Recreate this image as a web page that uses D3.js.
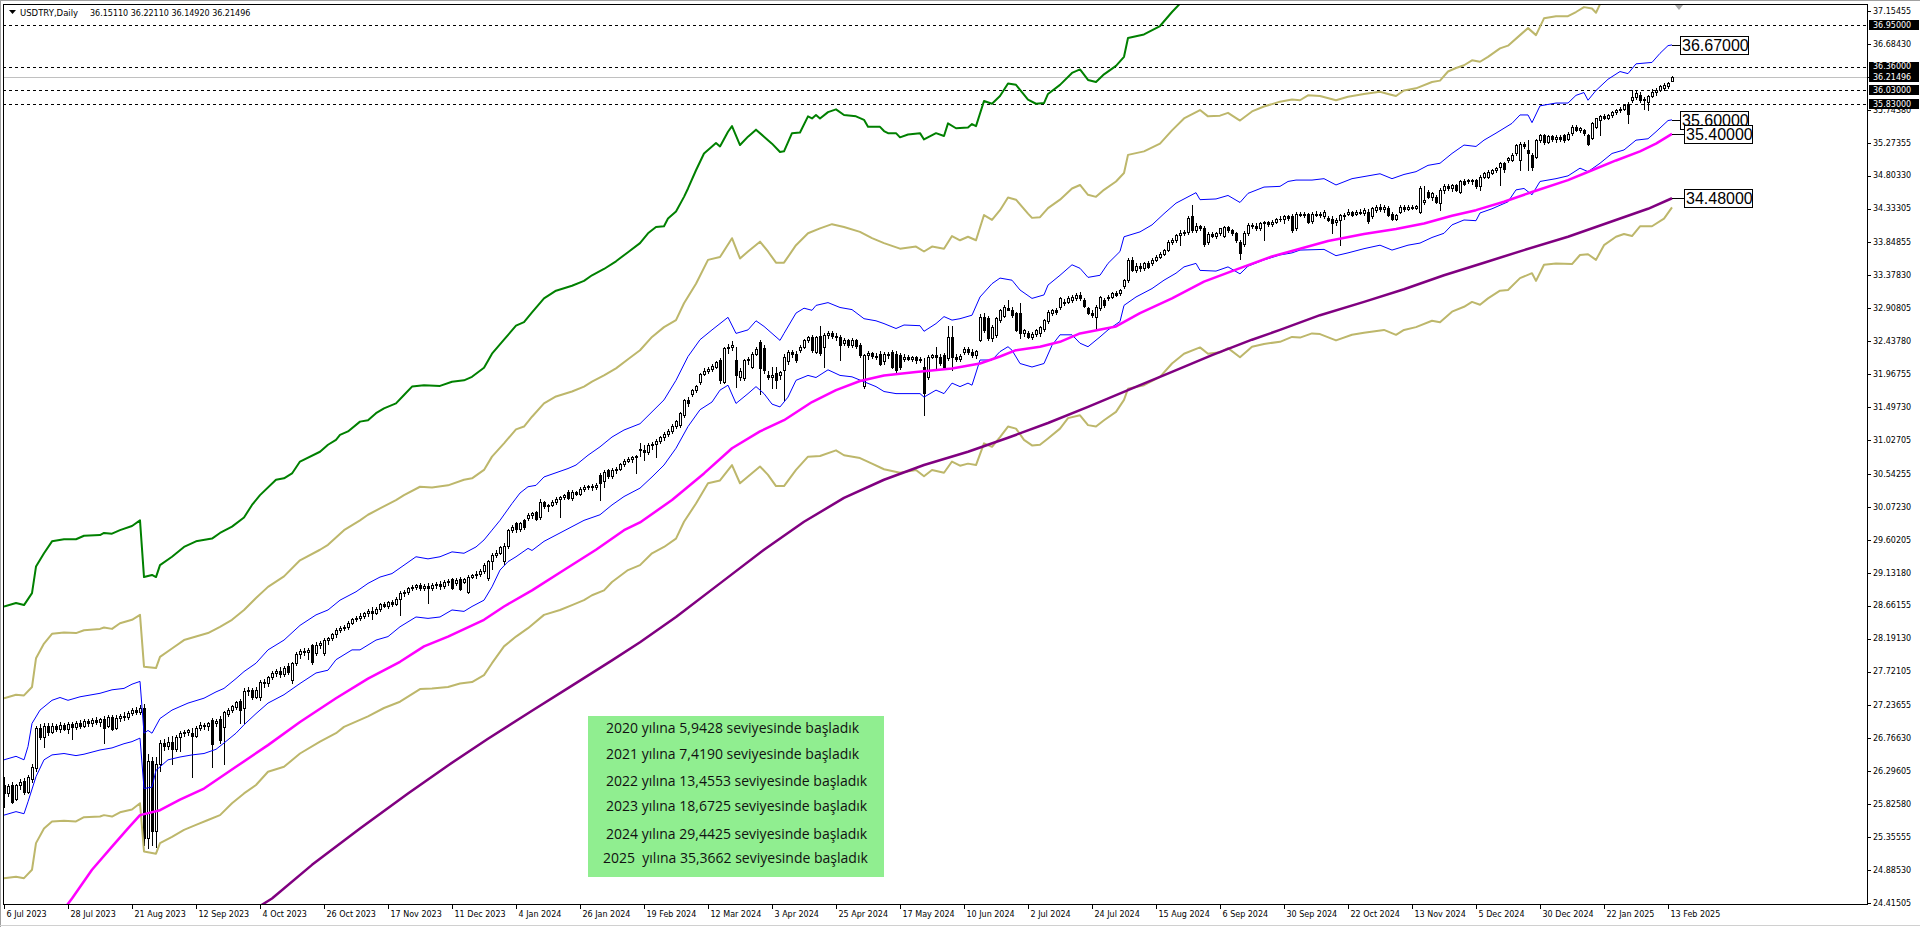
<!DOCTYPE html>
<html><head><meta charset="utf-8">
<script src="https://cdn.jsdelivr.net/npm/d3@7"></script>
<style>
html,body{margin:0;padding:0;background:#fff;overflow:hidden;}
svg{display:block;}
</style></head><body>
<svg id="chart" width="1920" height="927"></svg>
<script>
// ---------------- DATA ----------------
const symbolName = "USDTRY,Daily";
const titleValues = "36.15110 36.22110 36.14920 36.21496";
const xTickLabels = ["6 Jul 2023","28 Jul 2023","21 Aug 2023","12 Sep 2023","4 Oct 2023","26 Oct 2023","17 Nov 2023","11 Dec 2023","4 Jan 2024","26 Jan 2024","19 Feb 2024","12 Mar 2024","3 Apr 2024","25 Apr 2024","17 May 2024","10 Jun 2024","2 Jul 2024","24 Jul 2024","15 Aug 2024","6 Sep 2024","30 Sep 2024","22 Oct 2024","13 Nov 2024","5 Dec 2024","30 Dec 2024","22 Jan 2025","13 Feb 2025"];
const barsPerXTick = 16;
const yTickLabels = ["37.15455","36.68430","36.21405","35.74380","35.27355","34.80330","34.33305","33.84855","33.37830","32.90805","32.43780","31.96755","31.49730","31.02705","30.54255","30.07230","29.60205","29.13180","28.66155","28.19130","27.72105","27.23655","26.76630","26.29605","25.82580","25.35555","24.88530","24.41505"];
const dashedLevels = [36.95, 36.36, 36.03, 35.83];
const bidPrice = 36.21496;
const priceTags = ["36.95000","36.36000","36.21496","36.03000","35.83000"];
const endLabels = ["36.67000","35.60000","35.40000","34.48000"];
const noteLines = ["2020 yılına 5,9428 seviyesinde başladık","2021 yılına 7,4190 seviyesinde başladık","2022 yılına 13,4553 seviyesinde başladık","2023 yılına 18,6725 seviyesinde başladık","2024 yılına 29,4425 seviyesinde başladık","2025  yılına 35,3662 seviyesinde başladık"];

// daily candles [open, high, low, close], one per trading day from 6 Jul 2023
const ohlc = [
[26.10,26.22,25.78,25.98],[25.98,26.12,25.95,26.08],[26.10,26.15,25.84,25.86],[25.90,26.12,25.88,26.10],[26.10,26.18,26.05,26.14],
[26.16,26.20,25.97,26.00],[26.00,26.25,25.98,26.22],[26.18,26.40,26.15,26.36],[26.34,26.95,26.30,26.92],[26.92,26.97,26.76,26.78],
[26.78,26.98,26.64,26.95],[26.95,26.99,26.82,26.86],[26.86,26.98,26.84,26.94],[26.94,26.97,26.87,26.90],[26.90,27.00,26.86,26.96],
[26.96,26.99,26.88,26.90],[26.90,27.00,26.85,26.97],[26.97,27.00,26.76,26.93],[26.93,27.02,26.90,26.99],[26.99,27.03,26.92,26.95],
[26.95,27.04,26.93,27.01],[27.01,27.05,26.95,26.98],[26.98,27.06,26.94,27.03],[27.03,27.07,26.97,27.00],[27.00,27.06,26.95,27.04],
[27.05,27.08,26.70,26.92],[26.95,27.10,26.93,27.07],[27.07,27.10,26.88,26.90],[26.92,27.10,26.90,27.06],[27.06,27.12,27.02,27.09],
[27.09,27.14,27.03,27.07],[27.07,27.16,27.04,27.13],[27.13,27.20,27.10,27.17],[27.17,27.22,27.11,27.15],[27.15,27.25,27.12,27.20],
[27.20,27.26,25.25,25.35],[25.35,26.55,25.20,26.45],[26.45,26.50,25.25,25.45],[25.45,26.50,25.22,26.40],[26.40,26.75,26.30,26.70],
[26.70,26.76,26.60,26.66],[26.66,26.78,26.62,26.72],[26.72,26.80,26.40,26.62],[26.62,26.82,26.58,26.78],[26.78,26.87,26.58,26.84],
[26.84,26.88,26.80,26.86],[26.86,26.90,26.82,26.88],[26.85,26.92,26.22,26.80],[26.80,26.95,26.78,26.92],[26.92,27.00,26.88,26.96],
[26.96,26.99,26.90,26.94],[26.94,27.00,26.88,26.98],[27.03,27.06,26.36,26.68],[26.98,27.05,26.95,27.02],[27.05,27.08,26.70,26.74],
[26.93,27.16,26.40,27.14],[27.12,27.20,27.08,27.17],[27.17,27.25,27.14,27.23],[27.22,27.30,27.19,27.28],[27.30,27.33,26.98,27.17],
[27.20,27.48,26.98,27.44],[27.44,27.50,27.38,27.46],[27.46,27.48,27.33,27.36],[27.36,27.50,27.34,27.45],[27.35,27.60,27.32,27.57],
[27.57,27.62,27.50,27.55],[27.55,27.66,27.52,27.64],[27.64,27.73,27.62,27.70],[27.70,27.76,27.66,27.73],[27.73,27.78,27.64,27.68],
[27.68,27.80,27.66,27.77],[27.80,27.84,27.69,27.71],[27.60,27.86,27.56,27.84],[27.84,28.00,27.82,27.97],[27.97,28.04,27.92,28.01],
[28.01,28.06,27.95,28.00],[28.00,28.05,27.90,28.03],[28.10,28.12,27.83,27.86],[27.98,28.14,27.96,28.10],[28.10,28.16,28.06,28.13],
[27.98,28.20,27.95,28.17],[28.17,28.22,28.12,28.20],[28.20,28.27,28.17,28.25],[28.25,28.34,28.22,28.32],[28.32,28.37,28.28,28.34],
[28.34,28.38,28.31,28.36],[28.36,28.44,28.33,28.42],[28.42,28.49,28.40,28.47],[28.47,28.52,28.44,28.49],[28.49,28.55,28.46,28.52],
[28.52,28.57,28.49,28.55],[28.55,28.62,28.52,28.59],[28.59,28.64,28.47,28.56],[28.56,28.64,28.54,28.62],[28.62,28.70,28.58,28.68],
[28.68,28.72,28.64,28.66],[28.66,28.73,28.63,28.71],[28.71,28.74,28.65,28.69],[28.69,28.79,28.67,28.76],[28.76,28.87,28.53,28.84],
[28.84,28.89,28.80,28.86],[28.86,28.93,28.83,28.91],[28.91,28.96,28.88,28.93],[28.93,28.97,28.90,28.95],[28.95,28.98,28.88,28.92],
[28.92,28.97,28.88,28.94],[28.94,28.98,28.70,28.91],[28.91,28.98,28.89,28.95],[28.95,29.00,28.92,28.97],[28.97,29.01,28.90,28.94],
[28.94,29.03,28.92,29.00],[29.00,29.04,28.96,29.02],[29.04,29.06,28.90,28.92],[28.98,29.05,28.95,29.03],[29.04,29.07,28.88,28.90],
[29.00,29.06,28.98,29.04],[28.86,29.10,28.84,29.07],[29.07,29.12,29.05,29.10],[29.10,29.16,29.06,29.12],[29.12,29.18,29.09,29.15],
[29.15,29.27,29.13,29.24],[29.06,29.32,29.03,29.30],[29.30,29.42,29.18,29.38],[29.38,29.45,29.36,29.42],[29.42,29.52,29.40,29.50],
[29.30,29.55,29.25,29.52],[29.52,29.76,29.48,29.74],[29.74,29.81,29.72,29.78],[29.84,29.86,29.72,29.75],[29.75,29.86,29.73,29.84],
[29.88,29.90,29.76,29.78],[29.92,29.98,29.89,29.95],[29.95,30.00,29.92,29.98],[30.00,30.02,29.88,29.90],[29.93,30.18,29.90,30.14],
[30.14,30.16,30.05,30.08],[30.08,30.12,30.02,30.10],[30.10,30.17,30.08,30.14],[30.14,30.21,30.12,30.19],[30.19,30.23,29.93,30.21],
[30.21,30.26,30.18,30.24],[30.29,30.31,30.18,30.20],[30.20,30.31,30.17,30.28],[30.28,30.30,30.24,30.26],[30.26,30.35,30.24,30.33],
[30.33,30.38,30.30,30.36],[30.36,30.39,30.33,30.37],[30.37,30.40,30.32,30.35],[30.35,30.41,30.33,30.39],[30.53,30.56,30.17,30.42],
[30.44,30.60,30.36,30.57],[30.60,30.62,30.49,30.51],[30.51,30.63,30.49,30.60],[30.60,30.64,30.56,30.62],[30.62,30.70,30.60,30.68],
[30.68,30.75,30.66,30.73],[30.73,30.78,30.71,30.76],[30.76,30.80,30.72,30.78],[30.78,30.82,30.55,30.80],[30.90,30.98,30.80,30.88],
[30.88,30.95,30.74,30.85],[30.85,30.98,30.83,30.95],[30.95,31.00,30.90,30.97],[30.97,31.04,30.79,31.02],[31.02,31.09,30.98,31.07],
[31.07,31.14,31.03,31.12],[31.12,31.18,31.09,31.16],[31.16,31.25,31.13,31.23],[31.23,31.32,31.20,31.30],[31.24,31.43,31.22,31.41],
[31.38,31.62,31.36,31.60],[31.60,31.64,31.52,31.56],[31.69,31.76,31.66,31.74],[31.74,31.82,31.72,31.80],[31.85,31.99,31.83,31.97],
[31.97,32.05,31.95,32.02],[32.02,32.07,31.99,32.04],[32.04,32.11,32.02,32.08],[32.07,32.16,32.05,32.14],[32.17,32.20,31.84,31.88],
[31.86,32.36,31.84,32.34],[32.34,32.40,32.27,32.36],[32.36,32.44,32.32,32.38],[32.17,32.36,31.79,31.96],[31.93,32.06,31.88,32.02],
[31.91,32.19,31.88,32.17],[32.17,32.22,32.12,32.19],[32.07,32.28,32.05,32.26],[32.26,32.36,32.24,32.33],[32.43,32.46,31.69,32.05],
[32.34,32.38,31.98,32.03],[31.96,32.02,31.90,31.93],[31.93,32.07,31.77,31.96],[31.98,32.07,31.77,31.88],[31.96,32.02,31.90,32.00],
[32.03,32.26,31.60,32.22],[32.15,32.31,32.12,32.29],[32.29,32.32,32.22,32.25],[32.26,32.30,32.14,32.17],[32.31,32.38,32.28,32.36],
[32.36,32.47,32.34,32.45],[32.45,32.52,32.43,32.50],[32.50,32.53,32.29,32.31],[32.29,32.52,32.27,32.50],[32.52,32.65,32.24,32.27],
[32.36,32.55,32.07,32.53],[32.53,32.58,32.48,32.55],[32.55,32.59,32.49,32.52],[32.52,32.56,32.46,32.50],[32.50,32.53,32.17,32.39],
[32.41,32.48,32.38,32.45],[32.45,32.47,32.36,32.39],[32.39,32.48,32.36,32.45],[32.45,32.47,32.34,32.37],[32.38,32.42,32.22,32.24],
[31.80,32.26,31.77,32.24],[32.24,32.30,32.18,32.27],[32.27,32.29,32.20,32.23],[32.23,32.27,32.18,32.22],[32.26,32.30,32.10,32.12],
[32.15,32.29,32.12,32.26],[32.26,32.28,32.20,32.24],[32.29,32.32,32.05,32.07],[32.26,32.30,32.00,32.03],[32.24,32.27,32.04,32.07],
[32.19,32.25,32.16,32.22],[32.22,32.24,32.17,32.19],[32.19,32.23,32.16,32.21],[32.21,32.23,32.13,32.17],[32.17,32.21,32.14,32.19],
[32.07,32.20,31.38,31.70],[31.93,32.24,31.90,32.22],[32.22,32.26,32.20,32.24],[32.24,32.36,32.03,32.22],[32.22,32.25,32.10,32.13],
[32.24,32.27,32.05,32.07],[32.20,32.65,32.17,32.50],[32.50,32.65,32.03,32.22],[32.22,32.26,32.16,32.19],[32.19,32.25,32.15,32.23],
[32.29,32.36,32.26,32.33],[32.33,32.36,32.26,32.29],[32.29,32.33,32.22,32.24],[32.24,32.32,32.20,32.30],[32.46,32.82,32.44,32.79],
[32.79,32.84,32.57,32.60],[32.77,32.80,32.46,32.48],[32.48,32.67,32.44,32.64],[32.53,32.79,32.50,32.77],[32.74,32.90,32.72,32.88],
[32.80,32.95,32.78,32.93],[32.91,33.03,32.88,32.89],[32.88,32.92,32.78,32.81],[32.84,32.86,32.58,32.60],[32.84,32.98,32.48,32.55],
[32.55,32.62,32.52,32.60],[32.55,32.58,32.48,32.50],[32.50,32.57,32.47,32.54],[32.54,32.62,32.51,32.60],[32.56,32.66,32.52,32.64],
[32.61,32.76,32.58,32.74],[32.73,32.88,32.70,32.86],[32.84,32.90,32.81,32.88],[32.88,32.91,32.82,32.86],[32.93,33.07,32.90,33.05],
[33.00,33.04,32.95,32.98],[33.00,33.08,32.98,33.05],[33.03,33.10,33.00,33.07],[33.05,33.12,33.02,33.10],[33.10,33.14,33.03,33.06],
[33.03,33.06,32.92,32.94],[32.91,32.93,32.82,32.84],[32.84,32.89,32.78,32.81],[32.79,32.95,32.60,32.93],[32.91,33.09,32.88,33.07],
[33.03,33.05,32.92,32.96],[33.05,33.10,33.02,33.07],[33.07,33.14,33.05,33.12],[33.12,33.15,33.08,33.10],[33.12,33.19,33.10,33.17],
[33.22,33.33,33.20,33.31],[33.31,33.62,33.28,33.60],[33.60,33.64,33.44,33.46],[33.46,33.55,33.43,33.51],[33.51,33.56,33.44,33.48],
[33.48,33.57,33.46,33.55],[33.55,33.58,33.48,33.50],[33.55,33.62,33.52,33.60],[33.60,33.67,33.58,33.64],[33.64,33.71,33.62,33.69],
[33.69,33.76,33.67,33.74],[33.74,33.88,33.72,33.86],[33.86,33.91,33.83,33.88],[33.88,33.97,33.86,33.95],[33.95,34.02,33.81,33.98],
[33.98,34.03,33.95,34.00],[34.00,34.22,33.97,34.20],[34.22,34.38,34.00,34.03],[34.03,34.12,34.00,34.08],[34.08,34.10,34.03,34.05],
[34.05,34.08,33.80,33.83],[33.86,34.00,33.82,33.97],[33.97,34.00,33.92,33.94],[33.94,34.00,33.91,33.98],[33.98,34.06,33.96,34.05],
[33.94,34.09,33.92,34.07],[34.07,34.08,34.00,34.02],[34.02,34.04,33.96,33.98],[33.98,34.00,33.86,33.88],[33.86,33.88,33.61,33.70],
[33.83,34.01,33.80,33.98],[33.98,34.12,33.96,34.10],[34.10,34.13,34.05,34.08],[34.08,34.12,34.03,34.06],[34.06,34.14,34.02,34.12],
[34.12,34.16,33.88,34.14],[34.14,34.15,34.08,34.11],[34.11,34.17,34.08,34.14],[34.14,34.20,34.12,34.19],[34.19,34.22,34.16,34.18],
[34.18,34.24,34.12,34.22],[34.22,34.24,34.17,34.20],[34.22,34.25,34.00,34.03],[34.05,34.28,34.03,34.26],[34.26,34.29,34.22,34.24],
[34.24,34.28,34.21,34.26],[34.25,34.27,34.12,34.14],[34.15,34.28,34.13,34.26],[34.26,34.30,34.22,34.24],[34.24,34.29,34.21,34.26],
[34.22,34.31,34.20,34.29],[34.20,34.23,34.15,34.17],[34.19,34.22,33.98,34.12],[34.14,34.20,34.10,34.17],[34.17,34.26,33.81,34.24],
[34.24,34.27,34.19,34.22],[34.26,34.32,34.24,34.29],[34.29,34.30,34.22,34.24],[34.26,34.31,34.24,34.29],[34.29,34.32,34.25,34.27],
[34.27,34.34,34.24,34.31],[34.29,34.33,34.12,34.15],[34.22,34.36,34.20,34.34],[34.31,34.39,34.29,34.36],[34.36,34.40,34.30,34.32],
[34.32,34.38,34.29,34.36],[34.34,34.37,34.22,34.24],[34.26,34.28,34.17,34.19],[34.19,34.26,34.17,34.24],[34.29,34.38,34.27,34.36],
[34.36,34.39,34.30,34.32],[34.32,34.38,34.31,34.36],[34.36,34.38,34.33,34.34],[34.34,34.39,34.32,34.37],[34.29,34.65,34.27,34.62],
[34.43,34.65,34.40,34.45],[34.57,34.60,34.48,34.50],[34.50,34.57,34.46,34.55],[34.50,34.53,34.41,34.43],[34.41,34.62,34.31,34.60],
[34.60,34.69,34.55,34.65],[34.65,34.68,34.60,34.62],[34.62,34.69,34.59,34.67],[34.67,34.68,34.58,34.60],[34.57,34.74,34.55,34.72],
[34.72,34.76,34.67,34.69],[34.72,34.76,34.70,34.74],[34.74,34.76,34.69,34.72],[34.74,34.76,34.62,34.65],[34.65,34.81,34.60,34.79],
[34.79,34.86,34.77,34.84],[34.79,34.88,34.77,34.86],[34.84,34.90,34.82,34.88],[34.88,34.92,34.85,34.91],[34.93,35.00,34.67,34.98],
[34.98,35.00,34.86,34.90],[35.03,35.07,35.00,35.05],[35.03,35.12,35.01,35.10],[35.12,35.26,35.10,35.24],[35.03,35.28,34.88,35.26],
[35.26,35.28,35.20,35.22],[35.17,35.31,34.88,35.12],[35.10,35.12,34.88,34.93],[35.07,35.33,35.05,35.31],[35.31,35.40,35.29,35.38],
[35.38,35.40,35.26,35.29],[35.29,35.39,35.27,35.37],[35.37,35.38,35.30,35.32],[35.32,35.38,35.29,35.36],[35.36,35.38,35.30,35.33],
[35.38,35.40,35.29,35.31],[35.33,35.43,35.31,35.40],[35.41,35.52,35.39,35.50],[35.50,35.53,35.44,35.46],[35.46,35.50,35.43,35.48],
[35.46,35.47,35.39,35.41],[35.38,35.40,35.24,35.26],[35.34,35.57,35.32,35.55],[35.50,35.63,35.48,35.62],[35.60,35.67,35.38,35.65],
[35.65,35.68,35.61,35.63],[35.63,35.69,35.61,35.67],[35.67,35.73,35.64,35.71],[35.71,35.76,35.69,35.74],[35.74,35.78,35.71,35.76],
[35.76,35.83,35.74,35.81],[35.83,35.86,35.55,35.69],[35.88,36.03,35.86,35.93],[35.93,36.03,35.90,35.98],[35.96,36.00,35.86,35.88],
[35.88,35.92,35.76,35.90],[35.86,35.96,35.74,35.94],[35.94,36.04,35.92,36.00],[36.00,36.06,35.96,36.03],[36.03,36.10,36.01,36.08],
[36.05,36.12,36.03,36.10],[36.08,36.14,36.06,36.12],[36.1511,36.2211,36.1492,36.21496]
];

// indicator lines as [bar, value] points
const greenEnvelope = [[0,28.65],[3,28.70],[5,28.67],[7,28.84],[8,29.22],[10,29.41],[12,29.58],[15,29.61],[18,29.61],[20,29.66],[24,29.67],[25,29.70],[27,29.69],[29,29.74],[32,29.80],[34,29.88],[35,29.07],[37,29.10],[38,29.07],[39,29.24],[42,29.36],[45,29.50],[48,29.58],[52,29.62],[54,29.70],[57,29.79],[60,29.92],[62,30.10],[64,30.24],[68,30.46],[70,30.48],[72,30.55],[74,30.72],[79,30.86],[81,30.96],[83,31.03],[84,31.10],[86,31.15],[89,31.29],[91,31.31],[93,31.41],[95,31.48],[98,31.55],[100,31.67],[102,31.79],[105,31.81],[109,31.80],[112,31.86],[115,31.88],[117,31.93],[120,32.06],[122,32.26],[125,32.46],[128,32.66],[130,32.71],[132,32.85],[135,33.05],[138,33.16],[142,33.23],[145,33.30],[147,33.38],[150,33.47],[153,33.58],[156,33.71],[159,33.84],[161,33.98],[163,34.07],[165,34.08],[166,34.19],[168,34.29],[170,34.50],[171,34.62],[173,34.88],[175,35.12],[177,35.22],[178,35.27],[179,35.22],[181,35.43],[182,35.51],[184,35.24],[186,35.36],[188,35.46],[190,35.36],[192,35.26],[194,35.14],[195,35.15],[197,35.41],[199,35.42],[201,35.65],[202,35.62],[203,35.67],[204,35.62],[206,35.71],[208,35.75],[210,35.67],[213,35.65],[215,35.60],[216,35.50],[219,35.50],[220,35.44],[221,35.41],[223,35.41],[224,35.35],[226,35.39],[229,35.41],[230,35.32],[233,35.41],[235,35.37],[236,35.55],[238,35.48],[241,35.49],[242,35.54],[243,35.51],[245,35.87],[247,35.83],[249,35.94],[251,36.12],[253,36.10],[256,35.89],[258,35.83],[260,35.84],[261,35.97],[264,36.10],[267,36.27],[269,36.32],[271,36.17],[273,36.14],[275,36.25],[278,36.37],[280,36.50],[281,36.77],[285,36.82],[289,36.94],[292,37.14],[295,37.32],[299,37.45]];
const khakiUpper = [[0,27.34],[3,27.39],[5,27.38],[7,27.50],[8,27.91],[10,28.12],[12,28.26],[15,28.28],[18,28.27],[20,28.31],[24,28.33],[25,28.35],[27,28.33],[29,28.41],[32,28.46],[34,28.53],[35,27.79],[38,27.77],[39,27.93],[42,28.05],[45,28.17],[48,28.22],[51,28.27],[54,28.36],[57,28.46],[60,28.60],[63,28.77],[66,28.93],[70,29.08],[74,29.31],[79,29.46],[81,29.53],[85,29.74],[89,29.88],[91,29.96],[94,30.05],[98,30.17],[100,30.24],[104,30.36],[107,30.35],[111,30.38],[115,30.46],[117,30.48],[120,30.60],[122,30.79],[125,30.98],[128,31.18],[130,31.22],[132,31.36],[135,31.55],[138,31.65],[142,31.72],[145,31.79],[147,31.86],[150,31.95],[153,32.05],[156,32.18],[159,32.31],[162,32.50],[165,32.64],[168,32.74],[170,32.98],[173,33.26],[176,33.60],[179,33.64],[182,33.91],[184,33.62],[186,33.72],[189,33.86],[191,33.72],[193,33.56],[195,33.56],[198,33.81],[201,33.98],[204,34.05],[207,34.11],[210,34.07],[214,34.00],[217,33.91],[220,33.84],[224,33.76],[228,33.79],[230,33.72],[232,33.79],[235,33.76],[237,33.94],[239,33.88],[241,33.93],[243,33.88],[245,34.24],[247,34.17],[249,34.31],[251,34.49],[253,34.46],[256,34.26],[257,34.20],[259,34.21],[261,34.34],[264,34.46],[267,34.62],[269,34.67],[271,34.53],[273,34.50],[275,34.60],[278,34.72],[280,34.84],[281,35.10],[285,35.15],[289,35.26],[292,35.45],[295,35.62],[299,35.74],[301,35.65],[304,35.66],[306,35.70],[309,35.59],[312,35.72],[315,35.79],[319,35.86],[322,35.89],[324,35.88],[326,35.95],[329,35.94],[333,35.88],[336,35.93],[340,35.97],[344,36.00],[346,35.97],[348,35.94],[350,36.02],[353,36.05],[357,36.14],[359,36.16],[361,36.29],[363,36.34],[365,36.38],[367,36.45],[369,36.43],[371,36.50],[374,36.62],[376,36.66],[379,36.81],[381,36.91],[383,36.81],[385,37.05],[388,37.08],[391,37.08],[393,37.14],[395,37.21],[397,37.19],[398,37.13],[400,37.37],[403,37.50],[405,37.54],[409,37.67],[415,37.79],[417,37.96]];
const khakiLower = [[0,24.77],[3,24.79],[5,24.77],[7,24.89],[8,25.27],[10,25.48],[12,25.58],[15,25.59],[18,25.58],[20,25.64],[24,25.65],[25,25.67],[27,25.65],[29,25.71],[32,25.75],[34,25.84],[35,25.15],[38,25.12],[39,25.27],[42,25.36],[45,25.46],[48,25.53],[51,25.60],[54,25.67],[57,25.84],[60,25.98],[63,26.10],[66,26.29],[70,26.36],[74,26.55],[79,26.72],[83,26.84],[85,26.93],[89,27.03],[91,27.08],[95,27.20],[99,27.29],[104,27.47],[107,27.48],[111,27.50],[114,27.55],[117,27.57],[120,27.67],[122,27.84],[125,28.08],[128,28.22],[131,28.34],[135,28.53],[139,28.60],[142,28.67],[145,28.74],[147,28.81],[150,28.88],[152,29.00],[156,29.17],[159,29.24],[162,29.41],[165,29.50],[168,29.62],[170,29.86],[173,30.12],[176,30.41],[179,30.45],[182,30.67],[184,30.41],[189,30.65],[191,30.53],[193,30.37],[195,30.37],[198,30.60],[201,30.79],[204,30.80],[208,30.88],[210,30.81],[214,30.77],[217,30.69],[220,30.61],[224,30.56],[228,30.60],[230,30.51],[232,30.60],[235,30.56],[237,30.72],[239,30.66],[241,30.69],[243,30.67],[245,30.98],[247,30.93],[249,31.07],[251,31.22],[253,31.19],[255,31.03],[257,30.95],[259,30.96],[261,31.05],[264,31.19],[266,31.34],[269,31.38],[271,31.24],[273,31.22],[275,31.31],[278,31.43],[280,31.60],[281,31.76],[285,31.81],[289,31.93],[292,32.12],[295,32.26],[299,32.35],[301,32.26],[304,32.28],[306,32.34],[309,32.21],[312,32.36],[315,32.40],[319,32.43],[322,32.50],[324,32.49],[327,32.55],[329,32.54],[333,32.45],[337,32.53],[340,32.56],[345,32.60],[348,32.53],[350,32.60],[353,32.64],[357,32.73],[359,32.71],[362,32.86],[365,32.93],[367,33.00],[369,32.96],[371,33.05],[374,33.16],[376,33.17],[379,33.34],[382,33.41],[383,33.30],[385,33.53],[388,33.55],[392,33.54],[394,33.67],[396,33.68],[398,33.60],[400,33.81],[403,33.93],[405,33.97],[407,33.94],[409,34.08],[412,34.08],[415,34.19],[417,34.35]];
const blueUpper = [[0,26.46],[3,26.51],[5,26.46],[6,26.65],[7,26.98],[9,27.17],[12,27.31],[14,27.35],[16,27.31],[19,27.36],[24,27.41],[27,27.46],[30,27.48],[32,27.54],[34,27.58],[35,26.84],[36,26.88],[37,26.84],[39,27.05],[42,27.17],[46,27.27],[50,27.34],[53,27.43],[55,27.48],[58,27.62],[60,27.72],[63,27.84],[66,28.03],[70,28.17],[74,28.38],[78,28.53],[81,28.60],[84,28.74],[88,28.86],[91,28.98],[94,29.07],[97,29.12],[100,29.24],[103,29.36],[106,29.33],[109,29.36],[112,29.43],[115,29.41],[118,29.50],[120,29.60],[122,29.74],[124,29.88],[127,30.12],[129,30.27],[131,30.36],[133,30.38],[135,30.50],[138,30.56],[141,30.62],[143,30.67],[146,30.81],[149,30.93],[152,31.07],[155,31.17],[159,31.26],[162,31.43],[165,31.60],[168,31.88],[171,32.22],[174,32.46],[177,32.60],[179,32.69],[181,32.78],[183,32.55],[186,32.60],[188,32.73],[190,32.65],[192,32.55],[194,32.45],[195,32.55],[198,32.84],[200,32.91],[202,32.88],[203,32.95],[206,32.99],[209,32.92],[212,32.89],[215,32.76],[218,32.73],[220,32.69],[223,32.62],[225,32.67],[229,32.66],[230,32.58],[233,32.69],[235,32.79],[237,32.74],[239,32.76],[242,32.81],[244,33.07],[247,33.26],[249,33.34],[252,33.31],[254,33.17],[257,33.05],[260,33.10],[261,33.24],[264,33.38],[267,33.53],[269,33.48],[271,33.35],[274,33.38],[276,33.55],[279,33.72],[280,33.93],[284,34.00],[287,34.10],[290,34.26],[293,34.41],[296,34.50],[298,34.56],[299,34.46],[303,34.47],[306,34.52],[309,34.42],[311,34.55],[315,34.64],[319,34.65],[321,34.72],[323,34.74],[327,34.74],[330,34.76],[333,34.67],[337,34.76],[342,34.81],[344,34.83],[347,34.76],[350,34.82],[353,34.86],[356,34.95],[359,34.98],[362,35.12],[365,35.24],[368,35.22],[370,35.31],[373,35.41],[377,35.55],[379,35.67],[381,35.67],[382,35.56],[384,35.80],[388,35.84],[391,35.84],[393,35.95],[395,35.99],[396,35.88],[398,36.02],[401,36.18],[404,36.29],[406,36.26],[408,36.40],[410,36.41],[412,36.42],[414,36.55],[416,36.66],[417,36.67]];
const blueLower = [[0,25.67],[3,25.72],[5,25.69],[6,25.86],[8,26.22],[10,26.46],[12,26.53],[15,26.55],[18,26.52],[20,26.54],[24,26.60],[27,26.63],[30,26.69],[32,26.72],[34,26.77],[35,26.05],[37,26.07],[38,26.31],[41,26.46],[44,26.50],[47,26.53],[50,26.55],[53,26.61],[55,26.70],[58,26.84],[60,26.96],[63,27.12],[66,27.27],[70,27.39],[74,27.55],[78,27.70],[81,27.74],[83,27.89],[87,28.03],[89,28.03],[93,28.17],[96,28.22],[99,28.36],[103,28.50],[106,28.48],[109,28.50],[112,28.60],[115,28.58],[117,28.65],[120,28.74],[122,28.93],[124,29.17],[126,29.29],[128,29.36],[131,29.48],[132,29.45],[135,29.58],[139,29.70],[142,29.79],[145,29.88],[149,29.96],[152,30.10],[155,30.22],[159,30.34],[162,30.50],[165,30.67],[168,30.91],[171,31.22],[174,31.46],[177,31.57],[179,31.74],[181,31.81],[183,31.55],[186,31.69],[188,31.79],[190,31.69],[192,31.54],[194,31.50],[196,31.64],[198,31.88],[201,31.95],[203,31.92],[206,32.03],[209,31.95],[212,31.93],[215,31.86],[218,31.79],[220,31.72],[223,31.69],[229,31.69],[230,31.64],[233,31.74],[235,31.69],[237,31.84],[239,31.79],[241,31.84],[242,31.81],[244,32.17],[247,32.17],[249,32.29],[251,32.36],[252,32.31],[254,32.12],[257,32.07],[260,32.12],[262,32.38],[264,32.53],[267,32.53],[269,32.41],[271,32.36],[274,32.50],[276,32.60],[279,32.72],[280,32.95],[283,33.07],[287,33.19],[290,33.31],[293,33.41],[295,33.50],[298,33.55],[299,33.45],[303,33.44],[306,33.50],[309,33.40],[311,33.51],[315,33.60],[319,33.67],[322,33.70],[324,33.74],[330,33.75],[333,33.66],[336,33.70],[340,33.76],[344,33.81],[347,33.74],[351,33.81],[354,33.84],[357,33.92],[360,33.98],[362,34.10],[365,34.17],[368,34.16],[369,34.27],[372,34.33],[376,34.43],[378,34.60],[380,34.62],[382,34.53],[384,34.72],[388,34.76],[391,34.80],[394,34.91],[396,34.86],[399,34.98],[402,35.12],[405,35.17],[408,35.31],[411,35.33],[413,35.43],[416,35.59],[417,35.60]];
const magentaMA = [[14,24.25],[17,24.48],[22,24.89],[27,25.22],[31,25.48],[34,25.67],[39,25.74],[44,25.89],[50,26.05],[58,26.36],[66,26.67],[74,27.00],[83,27.34],[91,27.62],[99,27.86],[105,28.08],[111,28.22],[120,28.46],[125,28.65],[132,28.88],[140,29.17],[148,29.46],[155,29.74],[159,29.85],[167,30.17],[175,30.55],[182,30.91],[189,31.15],[195,31.31],[202,31.57],[208,31.74],[214,31.87],[220,31.95],[228,32.00],[237,32.05],[244,32.12],[249,32.22],[253,32.31],[259,32.36],[264,32.43],[269,32.55],[278,32.65],[284,32.84],[292,33.05],[300,33.29],[308,33.46],[317,33.65],[324,33.76],[331,33.87],[340,33.97],[348,34.04],[355,34.12],[362,34.23],[368,34.31],[375,34.43],[382,34.57],[391,34.74],[397,34.88],[403,35.02],[409,35.15],[413,35.26],[417,35.40]];
const purpleMA = [[62,24.30],[67,24.48],[77,24.96],[89,25.48],[101,25.98],[111,26.38],[121,26.76],[132,27.16],[142,27.52],[152,27.88],[159,28.14],[168,28.50],[179,28.98],[190,29.46],[200,29.86],[210,30.20],[220,30.46],[230,30.67],[241,30.86],[251,31.06],[261,31.27],[271,31.50],[281,31.74],[292,32.00],[302,32.24],[312,32.46],[319,32.60],[329,32.81],[340,33.00],[350,33.18],[360,33.38],[370,33.56],[380,33.74],[391,33.93],[401,34.13],[411,34.33],[417,34.48]];

// ---------------- DRAWING ----------------
const W = 1920, H = 927;
const plot = {left: 3, top: 4, right: 1867, bottom: 904};
const AXIS_FONT = "'DejaVu Sans', Verdana, sans-serif";
const svg = d3.select("#chart");

const y = d3.scaleLinear().domain([24.41505, 37.15455]).range([903, 11]);
const x = d3.scaleLinear().domain([0, ohlc.length - 1]).range([4, 4 + 4 * (ohlc.length - 1)]);

svg.append("rect").attr("width", W).attr("height", H).attr("fill", "#fff");
const frame = svg.append("g").attr("shape-rendering", "crispEdges");
frame.append("line").attr("x1", 0).attr("x2", W).attr("y1", 0.5).attr("y2", 0.5).attr("stroke", "#a0a0a0");
frame.append("line").attr("x1", 0.5).attr("x2", 0.5).attr("y1", 0).attr("y2", H).attr("stroke", "#a0a0a0");
frame.append("line").attr("x1", 0).attr("x2", W).attr("y1", H - 1.5).attr("y2", H - 1.5).attr("stroke", "#d0d0d0");

svg.append("defs").append("clipPath").attr("id", "clip")
  .append("rect").attr("x", plot.left + 1).attr("y", plot.top + 1)
  .attr("width", plot.right - plot.left - 1).attr("height", plot.bottom - plot.top - 1);
const g = svg.append("g").attr("clip-path", "url(#clip)");

// horizontal level lines
const lv = g.append("g").attr("shape-rendering", "crispEdges");
lv.selectAll("line.dash").data(dashedLevels).join("line")
  .attr("x1", plot.left).attr("x2", plot.right)
  .attr("y1", d => Math.round(y(d)) + 0.5).attr("y2", d => Math.round(y(d)) + 0.5)
  .attr("stroke", "#000").attr("stroke-dasharray", "3,3");
lv.append("line").attr("x1", plot.left).attr("x2", plot.right)
  .attr("y1", Math.round(y(bidPrice)) + 0.5).attr("y2", Math.round(y(bidPrice)) + 0.5)
  .attr("stroke", "#c0c0c0");

// candles
const cg = g.append("g").attr("shape-rendering", "crispEdges");
const bars = ohlc.map((d, i) => ({i, o: d[0], h: d[1], l: d[2], c: d[3]}));
const bodyH = d => Math.round(y(Math.min(d.o, d.c))) - Math.round(y(Math.max(d.o, d.c)));
cg.selectAll("line.wick").data(bars).join("line")
  .attr("x1", d => Math.round(x(d.i)) + 0.5).attr("x2", d => Math.round(x(d.i)) + 0.5)
  .attr("y1", d => Math.round(y(d.h))).attr("y2", d => Math.round(y(d.l)) + 1)
  .attr("stroke", "#000");
cg.selectAll("rect.body").data(bars.filter(d => bodyH(d) >= 1)).join("rect")
  .attr("x", d => Math.round(x(d.i)) - 0.5)
  .attr("y", d => Math.round(y(Math.max(d.o, d.c))) + 0.5)
  .attr("width", 2)
  .attr("height", d => bodyH(d))
  .attr("fill", d => d.c >= d.o ? "#fff" : "#000").attr("stroke", "#000");
cg.selectAll("line.doji").data(bars.filter(d => bodyH(d) < 1)).join("line")
  .attr("x1", d => Math.round(x(d.i)) - 1).attr("x2", d => Math.round(x(d.i)) + 2)
  .attr("y1", d => Math.round(y(d.c)) + 0.5).attr("y2", d => Math.round(y(d.c)) + 0.5)
  .attr("stroke", "#000");

// indicator lines
const lineGen = d3.line().x(d => x(d[0])).y(d => y(d[1]));
const series = [
  {d: greenEnvelope, c: "#008000", w: 2},
  {d: khakiUpper, c: "#BDB76B", w: 2},
  {d: khakiLower, c: "#BDB76B", w: 2},
  {d: blueUpper, c: "#0000FF", w: 1},
  {d: blueLower, c: "#0000FF", w: 1},
  {d: purpleMA, c: "#800080", w: 2.5},
  {d: magentaMA, c: "#FF00FF", w: 2.5}
];
g.selectAll("path.ind").data(series).join("path")
  .attr("d", s => lineGen(s.d)).attr("fill", "none")
  .attr("stroke", s => s.c).attr("stroke-width", s => s.w)
  .attr("stroke-linejoin", "round");

// end-of-line value labels
const lastX = x(ohlc.length - 1);
const labelGap = [8, 8, 12, 12];
endLabels.forEach((t, k) => {
  const v = +t, yy = Math.round(y(v)) + 0.5, bx = Math.round(lastX) + labelGap[k];
  g.append("line").attr("x1", lastX).attr("x2", bx).attr("y1", yy).attr("y2", yy)
    .attr("stroke", "#000").attr("shape-rendering", "crispEdges");
  g.append("rect").attr("x", bx + 0.5).attr("y", Math.round(y(v) - 9) + 0.5)
    .attr("width", 68).attr("height", 18).attr("fill", "#fff").attr("stroke", "#000")
    .attr("shape-rendering", "crispEdges");
  g.append("text").attr("x", bx + 2).attr("y", y(v) + 6)
    .attr("font-family", "'Liberation Sans', Arial, sans-serif").attr("font-size", 16)
    .attr("fill", "#000").text(t);
});

// chart-shift marker
g.append("path").attr("d", `M${lastX + 3},5 L${lastX + 11},5 L${lastX + 7},10 Z`).attr("fill", "#a8a8a8");

// note box
const note = svg.append("g");
note.append("rect").attr("x", 588).attr("y", 716).attr("width", 296).attr("height", 161).attr("fill", "#90EE90");
const noteBase = [733, 759, 786, 811, 839, 863];
note.selectAll("text").data(noteLines).join("text")
  .attr("x", (d, k) => k === 5 ? 603 : 606).attr("y", (d, k) => noteBase[k])
  .attr("font-family", "'Open Sans', 'Noto Sans', sans-serif").attr("font-size", 14)
  .attr("fill", "#111").attr("xml:space", "preserve").style("white-space", "pre").text(d => d);

// plot border
svg.append("rect").attr("x", plot.left + 0.5).attr("y", plot.top + 0.5)
  .attr("width", plot.right - plot.left).attr("height", plot.bottom - plot.top)
  .attr("fill", "none").attr("stroke", "#000").attr("shape-rendering", "crispEdges");

// right axis
const ya = svg.append("g").attr("font-family", AXIS_FONT).attr("font-size", 8).attr("fill", "#000");
yTickLabels.forEach(t => {
  const yy = Math.round(y(+t)) + 0.5;
  ya.append("line").attr("x1", plot.right).attr("x2", plot.right + 4).attr("y1", yy).attr("y2", yy)
    .attr("stroke", "#000").attr("shape-rendering", "crispEdges");
  ya.append("text").attr("x", plot.right + 6).attr("y", y(+t)).attr("dy", "0.35em").text(t);
});
priceTags.forEach(t => {
  const yc = y(+t);
  ya.append("rect").attr("x", plot.right + 2).attr("y", Math.round(yc - 5)).attr("width", 50).attr("height", 10)
    .attr("fill", "#000").attr("shape-rendering", "crispEdges");
  ya.append("text").attr("x", plot.right + 6).attr("y", yc).attr("dy", "0.35em").attr("fill", "#fff").text(t);
});

// bottom axis
const xa = svg.append("g").attr("font-family", AXIS_FONT).attr("font-size", 8).attr("fill", "#000");
xTickLabels.forEach((t, k) => {
  const xx = Math.round(x(k * barsPerXTick)) + 0.5;
  xa.append("line").attr("x1", xx).attr("x2", xx).attr("y1", plot.bottom).attr("y2", plot.bottom + 5)
    .attr("stroke", "#000").attr("shape-rendering", "crispEdges");
  xa.append("text").attr("x", xx + 2).attr("y", 917).text(t);
});

// title
svg.append("path").attr("d", "M9,10 L16,10 L12.5,14 Z").attr("fill", "#000");
svg.append("text").attr("x", 20).attr("y", 16).attr("font-family", AXIS_FONT).attr("font-size", 8.5).text(symbolName);
svg.append("text").attr("x", 90).attr("y", 16).attr("font-family", AXIS_FONT).attr("font-size", 8).text(titleValues);
</script>
</body></html>
